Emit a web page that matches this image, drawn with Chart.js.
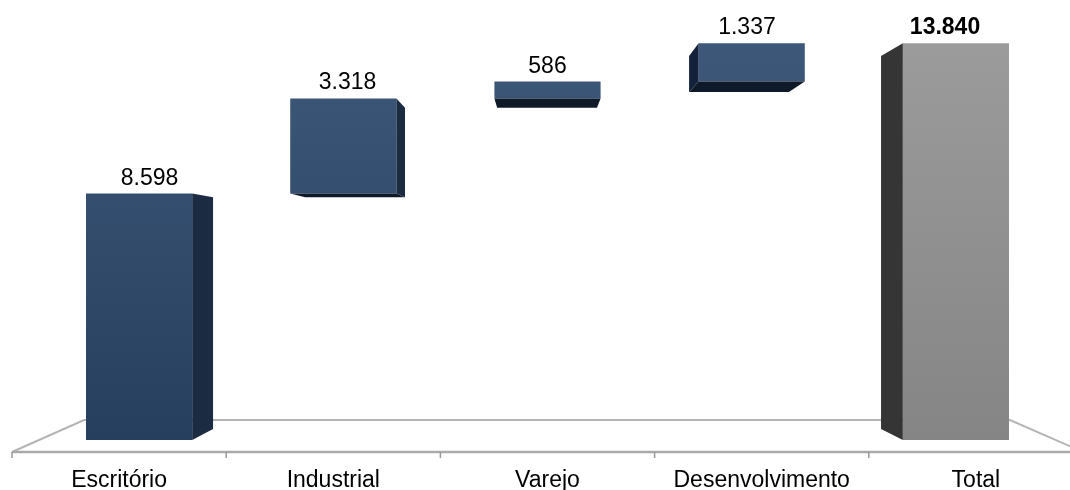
<!DOCTYPE html>
<html>
<head>
<meta charset="utf-8">
<script src="https://cdn.jsdelivr.net/npm/chart.js@4/dist/chart.umd.min.js"></script>
<style>
	html, body { margin: 0; padding: 0; background: #ffffff; }
	#wrap { width: 1070px; height: 490px; position: relative; }
</style>
</head>
<body>
<div id="wrap"><canvas id="chart-area"></canvas></div>
<script>
// Data
var categories = ['Escritório', 'Industrial', 'Varejo', 'Desenvolvimento', 'Total'];
var increments = [8598, 3318, 586, 1337];
var totalValue = 13840;
var valueLabels = ['8.598', '3.318', '586', '1.337', '13.840'];

// Waterfall: each step floats on the running sum, the total stands on zero
var floating = [];
var running = 0;
increments.forEach(function (v) {
	floating.push([running, running + v]);
	running += v;
});
floating.push([0, totalValue]);

var FONT = '"Liberation Sans", Arial, sans-serif';

// vanishing point and depth used to fake the 3d boxes
var VP = { x: 540, y: 255 };
var DEPTH = 0.06;

function toBack(x, y) {
	return { x: x + (VP.x - x) * DEPTH, y: y + (VP.y - y) * DEPTH };
}

function poly(ctx, pts, color) {
	ctx.beginPath();
	ctx.moveTo(pts[0].x, pts[0].y);
	for (var i = 1; i < pts.length; i++) {
		ctx.lineTo(pts[i].x, pts[i].y);
	}
	ctx.closePath();
	ctx.fillStyle = color;
	ctx.fill();
}

var box3d = {
	id: 'box3d',
	beforeDatasetsDraw: function (chart) {
		var ctx = chart.ctx;
		ctx.save();
		// floor of the plot
		ctx.strokeStyle = '#b4b4b4';
		ctx.lineWidth = 2;
		ctx.beginPath();
		ctx.moveTo(12, 452);
		ctx.lineTo(84, 420);
		ctx.lineTo(1010, 420);
		ctx.lineTo(1090, 455);
		ctx.stroke();
		ctx.strokeStyle = '#aaaaaa';
		ctx.lineWidth = 2.5;
		ctx.beginPath();
		ctx.moveTo(12, 452);
		ctx.lineTo(1070, 452);
		ctx.stroke();
		// tick marks under the front edge
		ctx.strokeStyle = '#999999';
		ctx.lineWidth = 1.5;
		for (var i = 0; i < categories.length; i++) {
			var tx = 12 + i * 214.2;
			ctx.beginPath();
			ctx.moveTo(tx, 452);
			ctx.lineTo(tx, 458);
			ctx.stroke();
		}
		ctx.restore();
	},
	afterDatasetsDraw: function (chart) {
		var ctx = chart.ctx;
		var meta = chart.getDatasetMeta(0);
		ctx.save();
		meta.data.forEach(function (bar, i) {
			var p = bar.getProps(['x', 'y', 'base', 'width'], true);
			var l = p.x - p.width / 2, r = p.x + p.width / 2;
			var t = Math.min(p.y, p.base), b = Math.max(p.y, p.base);
			var lt = toBack(l, t), rt = toBack(r, t), lb = toBack(l, b), rb = toBack(r, b);
			var isTotal = i === categories.length - 1;
			var sideColor = isTotal ? '#353535' : '#1b2b42';
			var underColor = isTotal ? '#2a2a2a' : '#0f1a28';

			if (b < VP.y) {
				poly(ctx, [{ x: l, y: b }, { x: r, y: b }, rb, lb], underColor);
			}
			if (r < VP.x) {
				poly(ctx, [{ x: r, y: t }, rt, rb, { x: r, y: b }], sideColor);
			}
			if (l > VP.x) {
				poly(ctx, [{ x: l, y: t }, lt, lb, { x: l, y: b }], isTotal ? sideColor : '#13213a');
			}

			// value label centred over the whole box
			var minX = Math.min(l, lt.x), maxX = Math.max(r, rt.x);
			ctx.fillStyle = '#000000';
			ctx.textAlign = 'center';
			ctx.textBaseline = 'alphabetic';
			ctx.font = (isTotal ? 'bold ' : '') + '23px ' + FONT;
			ctx.fillText(valueLabels[i], (minX + maxX) / 2, t - 9);
		});

		// category names along the front edge of the floor
		ctx.fillStyle = '#000000';
		ctx.font = '23px ' + FONT;
		ctx.textAlign = 'center';
		categories.forEach(function (name, i) {
			ctx.fillText(name, 12 + (i + 0.5) * 214.2, 487);
		});
		ctx.restore();
	}
};

function faceColor(context) {
	var chart = context.chart;
	var area = chart.chartArea;
	var isTotal = context.dataIndex === categories.length - 1;
	if (!area) {
		return isTotal ? '#929292' : '#2f4a6b';
	}
	var g = chart.ctx.createLinearGradient(0, area.top, 0, area.bottom);
	if (isTotal) {
		g.addColorStop(0, '#9d9d9d');
		g.addColorStop(1, '#858585');
	} else {
		g.addColorStop(0, '#3f5a7c');
		g.addColorStop(1, '#273f5e');
	}
	return g;
}

var config = {
	type: 'bar',
	data: {
		labels: categories,
		datasets: [{
			data: floating,
			backgroundColor: faceColor,
			borderWidth: 0,
			borderSkipped: false,
			barPercentage: 0.52,
			categoryPercentage: 1
		}]
	},
	options: {
		responsive: true,
		maintainAspectRatio: false,
		animation: false,
		layout: {
			padding: { left: 37, right: 12, top: 10, bottom: 50 }
		},
		plugins: {
			legend: { display: false },
			tooltip: { enabled: false }
		},
		scales: {
			x: { display: false },
			y: { display: false, min: 0, max: 15000 }
		}
	},
	plugins: [box3d]
};

var ctx = document.getElementById('chart-area').getContext('2d');
var myChart = new Chart(ctx, config);
</script>
</body>
</html>
